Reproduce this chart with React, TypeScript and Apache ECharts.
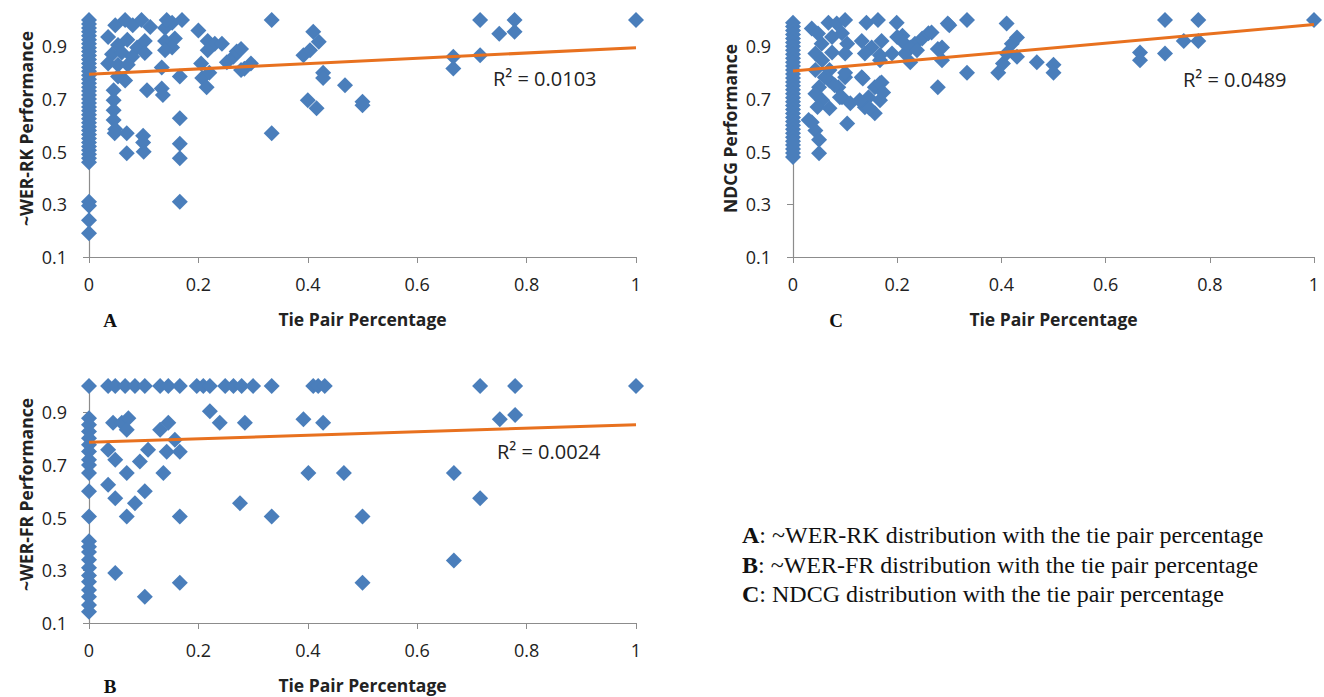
import { useEffect, useRef } from 'react';
import * as echarts from 'echarts';

// ---------- data ----------
const yTickValues = [0.1, 0.3, 0.5, 0.7, 0.9];

// Panel A: ~WER-RK
const zeroColumnA = [1.0, 0.985, 0.97, 0.955, 0.94, 0.925, 0.91, 0.895, 0.88, 0.865, 0.85, 0.835, 0.82, 0.805, 0.79, 0.775, 0.76, 0.745, 0.73, 0.715, 0.7, 0.685, 0.67, 0.655, 0.64, 0.625, 0.61, 0.595, 0.58, 0.565, 0.55, 0.535, 0.52, 0.505, 0.49, 0.475, 0.46, 0.31, 0.295, 0.24, 0.19];
const pointsA = [
  [0.035, 0.935], [0.048, 0.98], [0.066, 1.0], [0.08, 0.98], [0.096, 1.0], [0.112, 0.973],
  [0.053, 0.905], [0.07, 0.925], [0.088, 0.896], [0.102, 0.92],
  [0.042, 0.87], [0.06, 0.877], [0.079, 0.86], [0.102, 0.875],
  [0.035, 0.835], [0.053, 0.83], [0.071, 0.83],
  [0.053, 0.785], [0.066, 0.77],
  [0.045, 0.733], [0.045, 0.695], [0.045, 0.657], [0.045, 0.62], [0.048, 0.585], [0.047, 0.57],
  [0.069, 0.57], [0.069, 0.494], [0.099, 0.56], [0.099, 0.535], [0.1, 0.5],
  [0.106, 0.733], [0.133, 0.74], [0.135, 0.715], [0.133, 0.82],
  [0.139, 0.97], [0.152, 0.99], [0.17, 1.0], [0.142, 1.0],
  [0.139, 0.92], [0.157, 0.93], [0.152, 0.896], [0.139, 0.885],
  [0.166, 0.785], [0.166, 0.627], [0.166, 0.53], [0.166, 0.475], [0.166, 0.31],
  [0.2, 0.96], [0.217, 0.92], [0.23, 0.91], [0.243, 0.91], [0.217, 0.885],
  [0.205, 0.835], [0.207, 0.78], [0.215, 0.745], [0.22, 0.8],
  [0.252, 0.84], [0.264, 0.86], [0.27, 0.88], [0.278, 0.89], [0.278, 0.81], [0.284, 0.815], [0.296, 0.835],
  [0.334, 1.0], [0.334, 0.57],
  [0.392, 0.866], [0.404, 0.885], [0.41, 0.955], [0.42, 0.917], [0.4, 0.695], [0.416, 0.665], [0.428, 0.8], [0.428, 0.78],
  [0.468, 0.752], [0.5, 0.69], [0.5, 0.676],
  [0.666, 0.86], [0.666, 0.816], [0.715, 1.0], [0.715, 0.866], [0.75, 0.948], [0.778, 1.0], [0.778, 0.955], [1.0, 1.0],
];
const trendA = [[0, 0.794], [1, 0.895]];
const r2A = 'R² = 0.0103';

// Panel B: ~WER-FR
const zeroColumnB = [1.0, 0.878, 0.853, 0.827, 0.802, 0.777, 0.751, 0.72, 0.7, 0.67, 0.6, 0.504, 0.41, 0.39, 0.37, 0.34, 0.31, 0.28, 0.257, 0.225, 0.2, 0.168, 0.143];
const topRowXB = [0.035, 0.048, 0.066, 0.084, 0.102, 0.13, 0.145, 0.166, 0.197, 0.209, 0.221, 0.249, 0.264, 0.279, 0.3, 0.334, 0.41, 0.419, 0.431, 0.715, 0.779, 1.0];
const pointsB = [
  [0.044, 0.86], [0.06, 0.86], [0.072, 0.878], [0.069, 0.834], [0.035, 0.758], [0.048, 0.72], [0.069, 0.67],
  [0.035, 0.625], [0.048, 0.574], [0.069, 0.504], [0.084, 0.555], [0.102, 0.6], [0.093, 0.713], [0.108, 0.758],
  [0.048, 0.29], [0.102, 0.2], [0.13, 0.834], [0.145, 0.86], [0.136, 0.67], [0.142, 0.75], [0.157, 0.796],
  [0.166, 0.75], [0.166, 0.504], [0.166, 0.253], [0.221, 0.904], [0.239, 0.86], [0.285, 0.86], [0.276, 0.555],
  [0.334, 0.504], [0.392, 0.874], [0.428, 0.86], [0.401, 0.67], [0.466, 0.67], [0.5, 0.504], [0.5, 0.253],
  [0.667, 0.67], [0.667, 0.337], [0.715, 0.574], [0.751, 0.874], [0.779, 0.89],
];
const trendB = [[0, 0.786], [1, 0.853]];
const r2B = 'R² = 0.0024';

// Panel C: NDCG
const zeroColumnC = [0.99, 0.975, 0.96, 0.945, 0.93, 0.915, 0.9, 0.885, 0.87, 0.855, 0.84, 0.825, 0.81, 0.795, 0.78, 0.765, 0.75, 0.735, 0.72, 0.705, 0.69, 0.675, 0.66, 0.645, 0.63, 0.615, 0.6, 0.585, 0.57, 0.555, 0.54, 0.525, 0.51, 0.495, 0.48];
const pointsC = [
  [0.036, 0.968], [0.048, 0.949], [0.068, 0.99], [0.084, 0.987], [0.1, 1.0], [0.141, 0.99], [0.163, 1.0], [0.199, 0.99],
  [0.055, 0.91], [0.075, 0.935], [0.094, 0.95], [0.104, 0.91],
  [0.043, 0.873], [0.056, 0.847], [0.075, 0.877], [0.1, 0.873],
  [0.132, 0.92], [0.151, 0.896], [0.17, 0.92], [0.138, 0.873], [0.167, 0.866], [0.19, 0.873],
  [0.21, 0.94], [0.234, 0.91], [0.248, 0.93], [0.215, 0.873], [0.26, 0.95], [0.286, 0.896], [0.297, 0.987],
  [0.043, 0.81], [0.061, 0.783], [0.05, 0.745], [0.043, 0.72], [0.056, 0.695],
  [0.087, 0.745], [0.1, 0.783], [0.094, 0.707],
  [0.132, 0.783], [0.157, 0.745], [0.145, 0.707], [0.17, 0.763], [0.138, 0.669], [0.157, 0.646], [0.104, 0.607],
  [0.03, 0.62], [0.043, 0.58], [0.05, 0.545], [0.05, 0.494], [0.036, 0.612],
  [0.07, 0.81], [0.07, 0.77], [0.08, 0.752], [0.1, 0.8], [0.047, 0.67], [0.07, 0.665], [0.09, 0.707], [0.11, 0.684],
  [0.167, 0.847], [0.134, 0.778], [0.128, 0.695], [0.147, 0.665], [0.167, 0.695], [0.167, 0.76], [0.173, 0.725],
  [0.2, 0.935], [0.212, 0.915], [0.225, 0.896], [0.238, 0.885], [0.225, 0.84], [0.266, 0.953],
  [0.278, 0.89], [0.286, 0.847], [0.278, 0.745], [0.3, 0.98], [0.334, 1.0], [0.334, 0.8],
  [0.41, 0.987], [0.394, 0.8], [0.403, 0.835], [0.41, 0.873], [0.42, 0.91], [0.43, 0.934], [0.43, 0.86],
  [0.468, 0.84], [0.5, 0.83], [0.5, 0.8],
  [0.666, 0.877], [0.666, 0.847], [0.714, 1.0], [0.714, 0.873], [0.75, 0.92], [0.778, 1.0], [0.778, 0.92], [1.0, 1.0],
];
const trendC = [[0, 0.806], [1, 0.983]];
const r2C = 'R² = 0.0489';

const xAxisTitle = 'Tie Pair Percentage';
const yTitles = ['~WER-RK Performance', '~WER-FR Performance', 'NDCG Performance'];
const panelLetters = ['A', 'B', 'C'];
const captionLines = [
  ['A', ': ~WER-RK distribution with the tie pair percentage'],
  ['B', ': ~WER-FR distribution with the tie pair percentage'],
  ['C', ': NDCG distribution with the tie pair percentage'],
];

// ---------- styling ----------
const MARKER = '#4A7EBB';
const TREND = '#E8711F';
const AXIS = '#8C8C8C';
const SANS = '"Open Sans", "Noto Sans", sans-serif';
const SERIF = '"Liberation Serif", "DejaVu Serif", serif';

function makeX(gridIndex: number) {
  return {
    type: 'value', gridIndex, min: 0, max: 1, interval: 0.2,
    name: xAxisTitle, nameLocation: 'middle', nameGap: 53,
    nameTextStyle: { fontFamily: SANS, fontWeight: 'bold', fontSize: 17.5, color: '#222' },
    axisLine: { show: true, onZero: false, lineStyle: { color: AXIS, width: 1.2 } },
    axisTick: { show: true, length: 6, lineStyle: { color: AXIS } },
    axisLabel: { fontFamily: SANS, fontSize: 18, color: '#222', margin: 18, showMinLabel: true, showMaxLabel: true },
    splitLine: { show: false },
  };
}
function makeY(gridIndex: number, title: string) {
  return {
    type: 'value', gridIndex, min: 0.1, max: 1.0,
    name: title, nameLocation: 'middle', nameGap: 54,
    nameTextStyle: { fontFamily: SANS, fontWeight: 'bold', fontSize: 17.5, color: '#222', padding: [0, 0, 0, 20] },
    axisLine: { show: true, onZero: false, lineStyle: { color: AXIS, width: 1.2 } },
    axisTick: { show: true, length: 6, lineStyle: { color: AXIS }, customValues: yTickValues },
    axisLabel: { fontFamily: SANS, fontSize: 18, color: '#222', margin: 22, customValues: yTickValues, formatter: (v: number) => String(Number(v.toFixed(1))) },
    splitLine: { show: false },
  };
}
function scatter(idx: number, data: number[][]) {
  return {
    type: 'scatter', xAxisIndex: idx, yAxisIndex: idx, data,
    symbol: 'diamond', symbolSize: 16,
    itemStyle: { color: MARKER, opacity: 1 }, z: 2,
  };
}
function trend(idx: number, data: number[][]) {
  return {
    type: 'line', xAxisIndex: idx, yAxisIndex: idx, data,
    symbol: 'none', lineStyle: { color: TREND, width: 3 }, z: 3,
  };
}

export default function App() {
  const ref = useRef<HTMLDivElement>(null);
  useEffect(() => {
    if (!ref.current) return;
    const chart = echarts.init(ref.current, undefined, { renderer: 'svg' });
    const dataA = [...zeroColumnA.map((y) => [0, y]), ...pointsA];
    const dataB = [...zeroColumnB.map((y) => [0, y]), ...topRowXB.map((x) => [x, 1.0]), ...pointsB];
    const dataC = [...zeroColumnC.map((y) => [0, y]), ...pointsC];
    const r2Style = { font: `20px ${SANS}`, fill: '#222', verticalAlign: 'middle', align: 'left' };
    const letterStyle = { font: `bold 19px ${SERIF}`, fill: '#111', verticalAlign: 'middle', align: 'center' };
    chart.setOption({
      animation: false,
      backgroundColor: '#fff',
      grid: [
        { left: 89, top: 20, width: 547, height: 237 },
        { left: 89, top: 386, width: 547, height: 237 },
        { left: 793, top: 20, width: 521, height: 237 },
      ],
      xAxis: [makeX(0), makeX(1), makeX(2)],
      yAxis: [makeY(0, yTitles[0]), makeY(1, yTitles[1]), makeY(2, yTitles[2])],
      series: [
        scatter(0, dataA), trend(0, trendA),
        scatter(1, dataB), trend(1, trendB),
        scatter(2, dataC), trend(2, trendC),
      ],
      graphic: [
        { type: 'text', x: 493, y: 78, style: { ...r2Style, text: r2A } },
        { type: 'text', x: 497, y: 451, style: { ...r2Style, text: r2B } },
        { type: 'text', x: 1183, y: 79, style: { ...r2Style, text: r2C } },
        { type: 'text', x: 110, y: 320, style: { ...letterStyle, text: panelLetters[0] } },
        { type: 'text', x: 110, y: 686, style: { ...letterStyle, text: panelLetters[1] } },
        { type: 'text', x: 836, y: 320, style: { ...letterStyle, text: panelLetters[2] } },
        ...captionLines.map((line, i) => ({
          type: 'text', x: 742, y: 535 + i * 29.5,
          style: {
            text: `{b|${line[0]}}${line[1]}`,
            font: `24px ${SERIF}`, fill: '#111', verticalAlign: 'middle', align: 'left',
            rich: { b: { font: `bold 24px ${SERIF}`, fill: '#111' } },
          },
        })),
      ],
    });
    return () => chart.dispose();
  }, []);
  return <div ref={ref} style={{ position: 'fixed', left: 0, top: 0, width: 1324, height: 697 }} />;
}
